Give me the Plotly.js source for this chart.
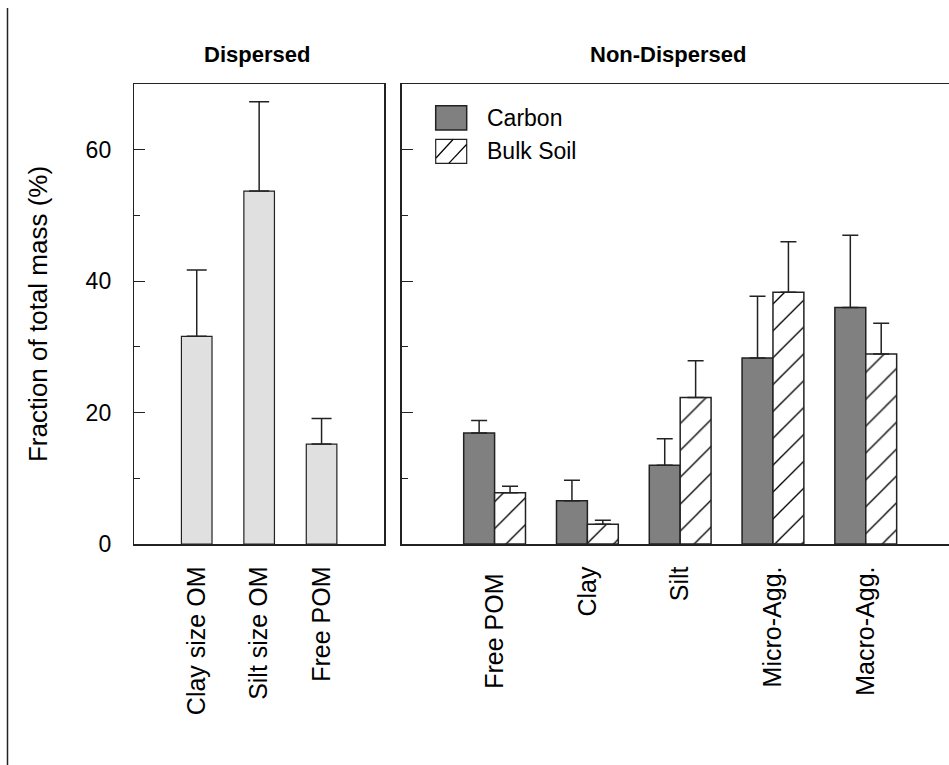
<!DOCTYPE html>
<html>
<head>
<meta charset="utf-8">
<script src="https://cdn.plot.ly/plotly-3.0.1.min.js"></script>
<style>html,body{margin:0;padding:0;background:#fff;}#chart{width:949px;height:765px;}</style>
</head>
<body>
<div id="chart"></div>
<script>
// ---- data ----
const dispersedCategories = ["Clay size OM", "Silt size OM", "Free POM"];
const dispersedValues = [31.6, 53.7, 15.2];
const dispersedErrors = [10.1, 13.6, 3.9];

const nonDispersedCategories = ["Free POM ", "Clay", "Silt", "Micro-Agg.", "Macro-Agg."];
const carbonValues = [16.9, 6.6, 12.0, 28.3, 36.0];
const carbonErrors = [1.9, 3.1, 4.0, 9.4, 11.0];
const bulkSoilValues = [7.8, 3.0, 22.3, 38.3, 28.9];
const bulkSoilErrors = [1.0, 0.6, 5.6, 7.7, 4.7];

const panelTitles = ["Dispersed", "Non-Dispersed"];
const seriesNames = ["Carbon", "Bulk Soil"];
const yTitle = "Fraction of total mass (%)";

// ---- layout helpers (pixel -> paper) ----
const W = 949, H = 765;
const px = x => x / W;
const py = y => 1 - y / H;
const FONT = "Arial, 'Liberation Sans', sans-serif";
const INK = "#222";

const traces = [
  {
    type: "bar", x: dispersedCategories, y: dispersedValues,
    xaxis: "x", yaxis: "y", width: 0.49, offset: -0.245,
    marker: {color: "#e0e0e0", line: {color: INK, width: 1.2}},
    error_y: {type: "data", array: dispersedErrors, symmetric: false,
              arrayminus: dispersedValues.map(() => 0),
              color: INK, thickness: 1.5, width: 10},
    showlegend: false, hoverinfo: "x+y"
  },
  {
    type: "bar", name: seriesNames[0], x: nonDispersedCategories, y: carbonValues,
    xaxis: "x2", yaxis: "y2", width: 0.333, offset: -0.333,
    marker: {color: "#808080", line: {color: INK, width: 1.5}},
    error_y: {type: "data", array: carbonErrors, symmetric: false,
              arrayminus: carbonValues.map(() => 0),
              color: INK, thickness: 1.5, width: 8},
    showlegend: false
  },
  {
    type: "bar", name: seriesNames[1], x: nonDispersedCategories, y: bulkSoilValues,
    xaxis: "x2", yaxis: "y2", width: 0.333, offset: 0,
    marker: {color: "#ffffff", line: {color: INK, width: 1.5},
             pattern: {shape: "/", size: 19, solidity: 0.07, fgcolor: "#000", bgcolor: "#fff", fillmode: "replace"}},
    error_y: {type: "data", array: bulkSoilErrors, symmetric: false,
              arrayminus: bulkSoilValues.map(() => 0),
              color: INK, thickness: 1.5, width: 8},
    showlegend: false
  }
];

const yBottom = py(544), yTop = py(84);

const commonY = {
  range: [0, 70], dtick: 20, tick0: 0, ticks: "inside", ticklen: 11, tickwidth: 1.2, tickcolor: INK,
  minor: {dtick: 10, tick0: 0, ticks: "inside", ticklen: 6, tickwidth: 1.2, tickcolor: INK},
  showgrid: false, zeroline: false, showline: true, linecolor: INK, linewidth: 1.5,
  domain: [yBottom, yTop], fixedrange: true
};

const layout = {
  width: W, height: H,
  margin: {l: 0, r: 0, t: 0, b: 0},
  paper_bgcolor: "#fff", plot_bgcolor: "#fff",
  font: {family: FONT, color: "#000", size: 23},
  barmode: "group",
  showlegend: false,
  xaxis: {
    domain: [px(134.3), px(384)], range: [-1, 3], type: "category",
    showline: true, mirror: true, linecolor: INK, linewidth: 1.5,
    ticks: "", tickangle: -90, ticklabelstandoff: 11,
    tickfont: {size: 25, family: FONT, color: "#000"},
    showgrid: false, zeroline: false, fixedrange: true
  },
  yaxis: Object.assign({}, commonY, {
    anchor: "x", mirror: true,
    tickfont: {size: 23, family: FONT, color: "#000"}, ticklabelstandoff: 17,
    title: {text: yTitle, font: {size: 26, family: FONT, color: "#000"}, standoff: 30}
  }),
  xaxis2: {
    domain: [px(401.8), 1], range: [-1, 4.897], type: "category", anchor: "y2",
    showline: true, mirror: true, linecolor: INK, linewidth: 1.5,
    ticks: "", tickangle: -90, ticklabelstandoff: 11,
    tickfont: {size: 25, family: FONT, color: "#000"},
    showgrid: false, zeroline: false, fixedrange: true
  },
  yaxis2: Object.assign({}, commonY, {
    anchor: "x2", mirror: false, showticklabels: false
  }),
  annotations: [
    {text: "<b>" + panelTitles[0] + "</b>", xref: "paper", yref: "paper", x: px(257), y: py(55),
     xanchor: "center", yanchor: "middle", showarrow: false, font: {size: 22, family: FONT, color: "#000"}},
    {text: "<b>" + panelTitles[1] + "</b>", xref: "paper", yref: "paper", x: px(668), y: py(55),
     xanchor: "center", yanchor: "middle", showarrow: false, font: {size: 22, family: FONT, color: "#000"}},
    {text: seriesNames[0], xref: "paper", yref: "paper", x: px(485), y: py(118),
     xanchor: "left", yanchor: "middle", showarrow: false, font: {size: 23, family: FONT, color: "#000"}},
    {text: seriesNames[1], xref: "paper", yref: "paper", x: px(485), y: py(151),
     xanchor: "left", yanchor: "middle", showarrow: false, font: {size: 23, family: FONT, color: "#000"}}
  ],
  shapes: [
    // left border line of the figure
    {type: "line", xref: "paper", yref: "paper", x0: px(7.5), x1: px(7.5), y0: py(8), y1: py(765),
     line: {color: INK, width: 1.5}},
    // legend swatches
    {type: "rect", xref: "paper", yref: "paper", x0: px(435.7), x1: px(466.7), y0: py(130), y1: py(105.7),
     fillcolor: "#808080", line: {color: INK, width: 1.5}},
    {type: "rect", xref: "paper", yref: "paper", x0: px(435.7), x1: px(466.7), y0: py(163.3), y1: py(139.3),
     fillcolor: "#ffffff", line: {color: INK, width: 1.2}},
    {type: "line", xref: "paper", yref: "paper", x0: px(436), y0: py(158), x1: px(453), y1: py(139.5),
     line: {color: "#000", width: 1.2}},
    {type: "line", xref: "paper", yref: "paper", x0: px(449), y0: py(163.2), x1: px(466.5), y1: py(144.5),
     line: {color: "#000", width: 1.2}}
  ]
};

Plotly.newPlot("chart", traces, layout, {displayModeBar: false, staticPlot: true});
</script>
</body>
</html>
